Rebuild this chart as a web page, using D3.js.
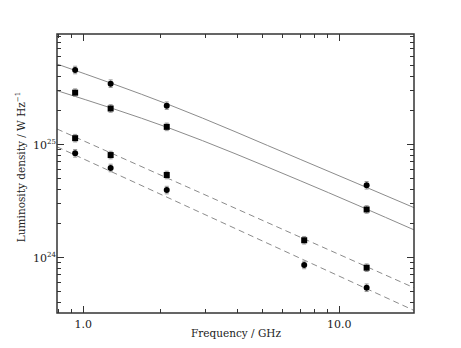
<!DOCTYPE html>
<html>
<head>
<meta charset="utf-8">
<script src="https://cdn.jsdelivr.net/npm/d3@7"></script>
<style>
  body { margin: 0; background: #fff; }
  svg text { font-family: "DejaVu Serif", "Liberation Serif", serif; fill: #222; }
</style>
</head>
<body>
<svg id="chart" width="461" height="348"></svg>
<script>
// frequencies (GHz) and luminosity densities (W/Hz)
const freqs = [0.93, 1.28, 2.12, 7.3, 12.8];

const circlesHigh = [[0.93, 4.49e25], [1.28, 3.40e25], [2.12, 2.17e25], [12.8, 4.29e24]];
const squaresHigh = [[0.93, 2.83e25], [1.28, 2.05e25], [2.12, 1.41e25], [12.8, 2.62e24]];
const squaresLow  = [[0.93, 1.12e25], [1.28, 7.94e24], [2.12, 5.29e24], [7.3, 1.40e24], [12.8, 8.0e23]];
const circlesLow  = [[0.93, 8.22e24], [1.28, 6.10e24], [2.12, 3.89e24], [7.3, 8.46e23], [12.8, 5.32e23]];

// model curves
const fitHigh = [[0.79, 5.07e25], [2.18, 2.20e25], [7.04, 7.28e24], [19.6, 2.72e24]];
const fitMid  = [[0.79, 2.95e25], [2.18, 1.37e25], [7.04, 4.71e24], [19.6, 1.73e24]];
const fitDashHigh = [[0.79, 1.35e25], [19.6, 5.32e23]];
const fitDashLow  = [[0.79, 9.4e24], [19.6, 3.35e23]];

const xTickLabels = [[1, "1.0"], [10, "10.0"]];
const yTickLabels = [[1e24, "24"], [1e25, "25"]];

const svg = d3.select("#chart");
const pl = 57, pr = 414, pt = 34, pb = 313;

let x = d3.scaleLog().domain([0.79, 19.6]).range([pl, pr]);
let y = d3.scaleLog().domain([3.18e23, 9.35e25]).range([pb, pt]);

svg.append("clipPath").attr("id", "clip")
  .append("rect").attr("x", pl).attr("y", pt)
  .attr("width", pr - pl).attr("height", pb - pt);

let plot = svg.append("g").attr("clip-path", "url(#clip)");

let line = d3.line().x(d => x(d[0])).y(d => y(d[1])).curve(d3.curveMonotoneX);

[fitHigh, fitMid].forEach(f => {
  plot.append("path").attr("d", line(f))
    .attr("fill", "none").attr("stroke", "#8c8c8c").attr("stroke-width", 1);
});
[fitDashHigh, fitDashLow].forEach(f => {
  plot.append("path").attr("d", line(f))
    .attr("fill", "none").attr("stroke", "#8c8c8c").attr("stroke-width", 1)
    .attr("stroke-dasharray", "6,4");
});

// error bars
function errors(data) {
  data.forEach(d => {
    let cx = x(d[0]);
    let y0 = y(d[1] * 1.08), y1 = y(d[1] / 1.08);
    plot.append("line").attr("x1", cx).attr("x2", cx).attr("y1", y0).attr("y2", y1)
      .attr("stroke", "#999").attr("stroke-width", 1);
    [y0, y1].forEach(v => {
      plot.append("line").attr("x1", cx - 2).attr("x2", cx + 2).attr("y1", v).attr("y2", v)
        .attr("stroke", "#999").attr("stroke-width", 1);
    });
  });
}
[circlesHigh, squaresHigh, squaresLow, circlesLow].forEach(errors);

[circlesHigh, circlesLow].forEach(s => {
  plot.selectAll(null).data(s).enter().append("circle")
    .attr("cx", d => x(d[0])).attr("cy", d => y(d[1])).attr("r", 3)
    .attr("fill", "#000");
});
[squaresHigh, squaresLow].forEach(s => {
  plot.selectAll(null).data(s).enter().append("rect")
    .attr("x", d => x(d[0]) - 3).attr("y", d => y(d[1]) - 3)
    .attr("width", 6).attr("height", 6).attr("fill", "#000");
});

// ticks (inward, all four sides)
let ticks = svg.append("g").attr("stroke", "#333").attr("stroke-width", 1);
let xMinor = [0.8, 0.9, 2, 3, 4, 5, 6, 7, 8, 9];
let xMajor = [1, 10];
xMinor.concat(xMajor).forEach(v => {
  let len = xMajor.includes(v) ? 7 : 4;
  let px = Math.round(x(v)) + 0.5;
  ticks.append("line").attr("x1", px).attr("x2", px).attr("y1", pb).attr("y2", pb - len);
  ticks.append("line").attr("x1", px).attr("x2", px).attr("y1", pt).attr("y2", pt + len);
});
let yMajor = [1e24, 1e25];
let yAll = [];
[1e23, 1e24, 1e25].forEach(dec => {
  for (let k = 1; k < 10; k++) yAll.push(dec * k);
});
yAll.filter(v => v >= 3.18e23 && v <= 9.35e25).forEach(v => {
  let len = yMajor.includes(v) ? 7 : 4;
  let py = Math.round(y(v)) + 0.5;
  ticks.append("line").attr("x1", pl).attr("x2", pl + len).attr("y1", py).attr("y2", py);
  ticks.append("line").attr("x1", pr).attr("x2", pr - len).attr("y1", py).attr("y2", py);
});

svg.append("rect").attr("x", pl).attr("y", pt)
  .attr("width", pr - pl).attr("height", pb - pt)
  .attr("fill", "none").attr("stroke", "#333").attr("stroke-width", 1.5);

// tick labels
xTickLabels.forEach(t => {
  svg.append("text").attr("x", x(t[0])).attr("y", 328)
    .attr("text-anchor", "middle").attr("font-size", 11).text(t[1]);
});
yTickLabels.forEach(t => {
  let g = svg.append("text").attr("x", 33).attr("y", y(t[0]) + 5).attr("font-size", 11);
  g.append("tspan").text("10");
  g.append("tspan").attr("font-size", 7).attr("dy", -5).text(t[1]);
});

// axis titles
svg.append("text").attr("x", 236).attr("y", 337).attr("text-anchor", "middle")
  .attr("font-size", 10.5).text("Frequency / GHz");

let yl = svg.append("text").attr("transform", "translate(25,167) rotate(-90)")
  .attr("text-anchor", "middle").attr("font-size", 10.5);
yl.append("tspan").text("Luminosity density / W Hz");
yl.append("tspan").attr("font-size", 7).attr("dy", -5).text("\u22121");
</script>
</body>
</html>
